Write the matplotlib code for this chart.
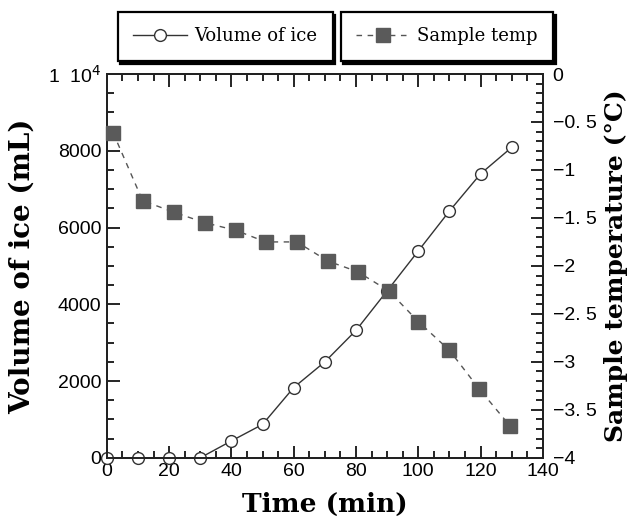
import matplotlib
matplotlib.use("Agg")
import matplotlib.pyplot as plt
from matplotlib.ticker import MultipleLocator, FixedLocator, FixedFormatter

# data
ice_time = [0, 10, 20, 30, 40, 50, 60, 70, 80, 90, 100, 110, 120, 130]
ice_volume = [0, 0, 0, 0, 440, 870, 1830, 2500, 3320, 4350, 5390, 6430, 7400, 8090]

temp_time = [2, 11.5, 21.5, 31.5, 41.5, 51, 61, 71, 80.5, 90.5, 100, 110, 119.5, 129.5]
sample_temp = [-0.61, -1.32, -1.44, -1.55, -1.63, -1.75, -1.75, -1.95, -2.06, -2.26,
               -2.58, -2.88, -3.28, -3.67]

vol_ticks = [0, 2000, 4000, 6000, 8000, 10000]
vol_labels = ["0", "2000", "4000", "6000", "8000", "1  10$^4$"]
temp_ticks = [0, -0.5, -1, -1.5, -2, -2.5, -3, -3.5, -4]
temp_labels = ["0", "\u22120. 5", "\u22121", "\u22121. 5", "\u22122", "\u22122. 5",
               "\u22123", "\u22123. 5", "\u22124"]
time_ticks = [0, 20, 40, 60, 80, 100, 120, 140]

label_font = {"family": "DejaVu Serif", "weight": "bold", "size": 20}
tick_font = ["Liberation Sans", "DejaVu Sans"]

fig = plt.figure(figsize=(6.32, 5.25), dpi=100)
ax = fig.add_axes([0.169, 0.128, 0.69, 0.731])
ax2 = ax.twinx()

l1, = ax.plot(ice_time, ice_volume, color="#333333", lw=1.0, marker="o",
              markersize=8.5, markerfacecolor="white", markeredgecolor="#333333",
              markeredgewidth=1.0, zorder=3, clip_on=False, label="Volume of ice")
l2, = ax2.plot(temp_time, sample_temp, color="#555555", lw=1.0, ls=(0, (4, 4)),
               marker="s", markersize=10.5, markerfacecolor="#5a5a5a",
               markeredgecolor="#5a5a5a", zorder=3, clip_on=False,
               label="Sample temp")

ax.set_xlim(0, 140)
ax.set_ylim(0, 10000)
ax2.set_ylim(-4, 0)

ax.xaxis.set_major_locator(FixedLocator(time_ticks))
ax.xaxis.set_minor_locator(MultipleLocator(5))
ax.yaxis.set_major_locator(FixedLocator(vol_ticks))
ax.yaxis.set_major_formatter(FixedFormatter(vol_labels))
ax.yaxis.set_minor_locator(MultipleLocator(500))
ax2.yaxis.set_major_locator(FixedLocator(temp_ticks))
ax2.yaxis.set_major_formatter(FixedFormatter(temp_labels))
ax2.yaxis.set_minor_locator(MultipleLocator(0.1))

ax.tick_params(which="both", direction="in", top=True, right=False, width=1.2,
               labelsize=14, pad=4)
ax.tick_params(which="major", length=9)
ax.tick_params(which="minor", length=5)
ax2.tick_params(which="both", direction="in", width=1.2, labelsize=14, pad=7)
ax2.tick_params(which="major", length=9)
ax2.tick_params(which="minor", length=5)
for lab in ax.get_xticklabels() + ax.get_yticklabels() + ax2.get_yticklabels():
    lab.set_family(tick_font)

for a in (ax, ax2):
    for s in a.spines.values():
        s.set_linewidth(1.4)
        s.set_color("#222222")

ax.set_xlabel("Time (min)", fontdict=dict(label_font, size=19), labelpad=8)
ax.set_ylabel("Volume of ice (mL)", fontdict=label_font)
ax.yaxis.set_label_coords(-0.163, 0.5)
ax2.set_ylabel("Sample temperature (\u00b0C)", fontdict=dict(label_font, size=18))
ax2.yaxis.set_label_coords(1.14, 0.5)

leg_kw = dict(loc="upper left", bbox_transform=fig.transFigure, fancybox=False,
              shadow={"color": "black", "alpha": 1.0}, framealpha=1,
              edgecolor="black", handlelength=3.0, handletextpad=0.4,
              borderpad=0.85, borderaxespad=0,
              prop={"family": "DejaVu Serif", "size": 13})
leg1 = ax2.legend(handles=[l1], bbox_to_anchor=(0.186, 0.977), **leg_kw)
leg1.get_frame().set_linewidth(1.6)
ax2.add_artist(leg1)
leg2 = ax2.legend(handles=[l2], bbox_to_anchor=(0.539, 0.977), **leg_kw)
leg2.get_frame().set_linewidth(1.6)

fig.savefig("out.png", dpi=100)
